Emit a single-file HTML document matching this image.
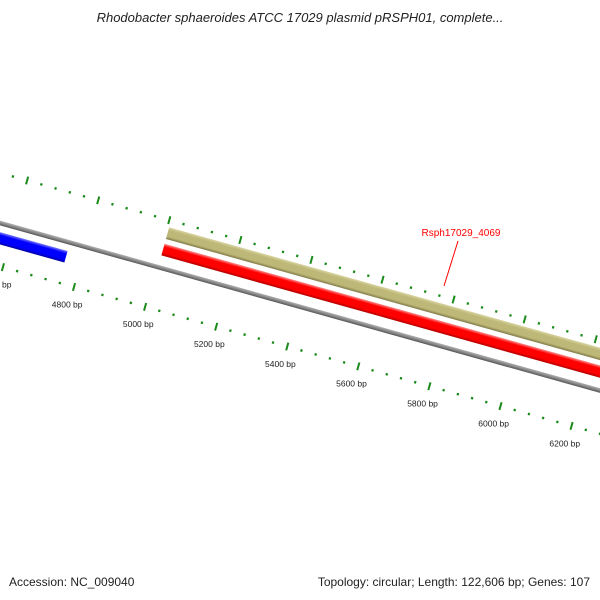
<!DOCTYPE html>
<html><head><meta charset="utf-8"><style>
body{margin:0;background:#fff;}
svg{display:block;font-family:"Liberation Sans","DejaVu Sans",sans-serif;}
</style></head><body>
<svg id="map" width="600" height="600" viewBox="0 0 600 600">
<defs>
<linearGradient id="gGray" x1="0" y1="0" x2="0" y2="1"><stop offset="0" stop-color="#b0b0b0"/><stop offset="0.5" stop-color="#888"/><stop offset="1" stop-color="#555"/></linearGradient>
<linearGradient id="gRed" x1="0" y1="0" x2="0" y2="1"><stop offset="0" stop-color="#ff9090"/><stop offset="0.25" stop-color="#ff0000"/><stop offset="0.75" stop-color="#ff0000"/><stop offset="1" stop-color="#b00000"/></linearGradient>
<linearGradient id="gKhaki" x1="0" y1="0" x2="0" y2="1"><stop offset="0" stop-color="#d8d4a0"/><stop offset="0.25" stop-color="#beb878"/><stop offset="0.75" stop-color="#beb878"/><stop offset="1" stop-color="#807a48"/></linearGradient>
<linearGradient id="gBlue" x1="0" y1="0" x2="0" y2="1"><stop offset="0" stop-color="#8080ff"/><stop offset="0.25" stop-color="#0000ff"/><stop offset="0.75" stop-color="#0000ff"/><stop offset="1" stop-color="#0000a0"/></linearGradient>
</defs>
<text x="300" y="22" text-anchor="middle" font-size="13" font-style="italic" fill="#222">Rhodobacter sphaeroides ATCC 17029 plasmid pRSPH01, complete...</text>
<g id="track" transform="translate(74,287) rotate(15.6)"></g>
<g id="labels"></g>
<text x="461" y="236" text-anchor="middle" font-size="10" fill="#ff0000">Rsph17029_4069</text>
<line x1="458" y1="241" x2="444" y2="286" stroke="#ff0000" stroke-width="1"/>
<text x="9" y="586" font-size="12" fill="#222">Accession: NC_009040</text>
<text x="590" y="586" text-anchor="end" font-size="12" fill="#222">Topology: circular; Length: 122,606 bp; Genes: 107</text>
</svg>
<script>
const tickStart = 4400;
const tickEnd = 6400;
const minorStep = 40;
const majorStep = 200;
const geneNames = ["blue-gene", "Rsph17029_4069", "khaki-feature"];
const geneStarts = [4300, 5005, 5005];
const geneEnds = [4757, 6700, 6700];
const geneLanes = [-27, -60, -77];
const geneFills = ["url(#gBlue)", "url(#gRed)", "url(#gKhaki)"];

const NS = "http://www.w3.org/2000/svg";
const ORIGIN_BP = 4800, PXPERBP = 0.369, ANG = 15.6 * Math.PI / 180, OX = 74, OY = 287;
function u(bp){ return (bp - ORIGIN_BP) * PXPERBP; }
function toScreen(bp, v){ const a = u(bp); return [OX + a*Math.cos(ANG) - v*Math.sin(ANG), OY + a*Math.sin(ANG) + v*Math.cos(ANG)]; }
const track = document.getElementById('track');
const labels = document.getElementById('labels');

// backbone
const bb = document.createElementNS(NS, 'rect');


bb.setAttribute('x', u(tickStart)); bb.setAttribute('width', u(tickEnd + 800) - u(tickStart));
bb.setAttribute('y', -44); bb.setAttribute('height', 4.5); bb.setAttribute('fill', 'url(#gGray)');
track.appendChild(bb);

// genes
for (let i = 0; i < geneNames.length; i++) {
  const r = document.createElementNS(NS, 'rect');
  
  
  r.setAttribute('x', u(geneStarts[i])); r.setAttribute('width', u(geneEnds[i]) - u(geneStarts[i]));
  r.setAttribute('y', geneLanes[i] - 6); r.setAttribute('height', 12);
  r.setAttribute('fill', geneFills[i]);
  track.appendChild(r);
}

// ticks
for (let bp = tickStart; bp <= tickEnd; bp += minorStep) {
  const major = bp % majorStep === 0;
  for (const v of [0, -90]) {
    const t = document.createElementNS(NS, 'line');
    
    
    const len = major ? 4 : 1.2;
    t.setAttribute('x1', u(bp)); t.setAttribute('x2', u(bp));
    t.setAttribute('y1', v - len); t.setAttribute('y2', v + len);
    t.setAttribute('stroke', '#1a8a1a'); t.setAttribute('stroke-width', major ? 2 : 2.2);
    track.appendChild(t);
  }
  if (major) {
    const p = toScreen(bp, 18);
    const tx = document.createElementNS(NS, 'text');
    
    
    tx.setAttribute('x', p[0] - 2); tx.setAttribute('y', p[1] + 3);
    tx.setAttribute('text-anchor', 'middle'); tx.setAttribute('font-size', '8.5'); tx.setAttribute('fill', '#222');
    tx.textContent = bp + ' bp';
    labels.appendChild(tx);
  }
}
</script>
</body></html>
